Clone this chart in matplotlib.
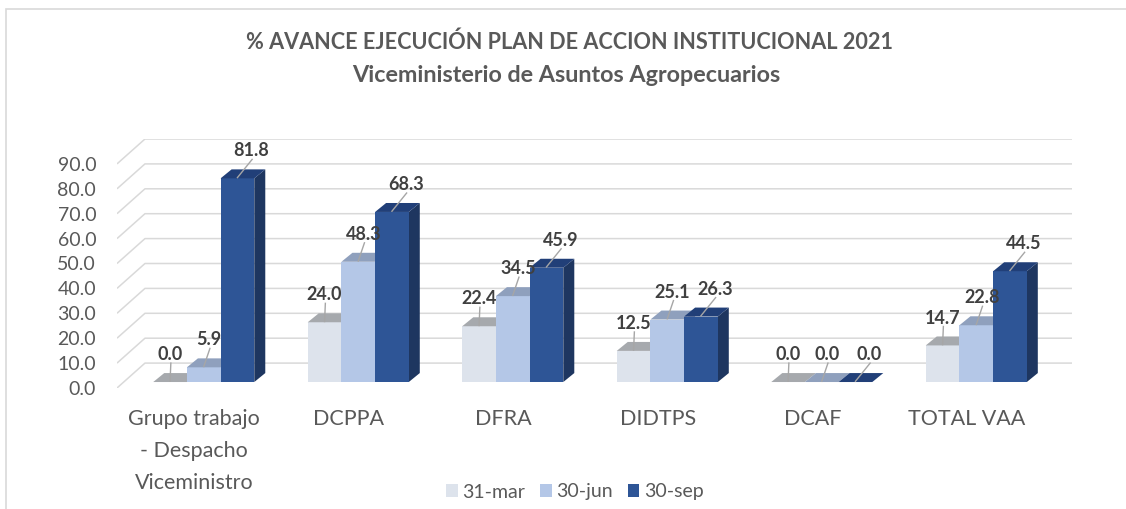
import matplotlib
matplotlib.use("Agg")
import matplotlib.pyplot as plt
from matplotlib.patches import Polygon, Patch, Rectangle
import numpy as np

# ---------------- data ----------------
categories = ["Grupo trabajo\n- Despacho\nViceministro", "DCPPA", "DFRA", "DIDTPS", "DCAF", "TOTAL VAA"]
series_names = ["31-mar", "30-jun", "30-sep"]
mar_31 = [0.0, 24.0, 22.4, 12.5, 0.0, 14.7]
jun_30 = [5.9, 48.3, 34.5, 25.1, 0.0, 22.8]
sep_30 = [81.8, 68.3, 45.9, 26.3, 0.0, 44.5]
y_ticks = [0, 10, 20, 30, 40, 50, 60, 70, 80, 90]
title_line1 = "% AVANCE EJECUCIÓN PLAN DE ACCION INSTITUCIONAL 2021"
title_line2 = "Viceministerio de Asuntos Agropecuarios"

# ---------------- style ----------------
FONT = ["Lato", "DejaVu Sans"]
plt.rcParams['font.family'] = FONT
TXT = "#595959"
LBL = "#404040"
GRID = "#d9d9d9"
front_cols = ["#dde3ec", "#b4c7e7", "#2e5596"]
top_cols = ["#a6a9ad", "#8fa0bd", "#213f78"]
side_cols = ["#b9bec6", "#8fa0bd", "#1e3660"]

DX_WALL, DY_WALL = 0.181, 10.0      # floor depth in data units
BAR_W = 0.218
BAR_SHIFT_X, BAR_BASE = 0.0615, 2.4  # bar front plane offset
BAR_DX, BAR_DY = 0.0712, 3.6         # bar depth
LBL_DX = [-0.005, 0.03, 0.085]
LBL_DY = 11.0

W, H = 1126, 509
fig = plt.figure(figsize=(W / 100, H / 100), dpi=100)
ax = fig.add_axes([117 / W, (H - 388) / H, 955 / W, 249 / H])
ax.set_xlim(-0.5, len(categories) - 0.5 + DX_WALL)
ax.set_ylim(0, y_ticks[-1] + DY_WALL)
for s in ax.spines.values():
    s.set_visible(False)

# outer chart border
fig.add_artist(Rectangle((6 / W, -0.01), 1.2, (H - 9) / H + 0.01, transform=fig.transFigure,
                         fill=False, edgecolor="#d9d9d9", linewidth=1.2))

# 3D style gridlines
x0 = -0.5
x1 = len(categories) - 0.5 + DX_WALL
for v in y_ticks:
    ax.plot([x0, x0 + DX_WALL, x1], [v, v + DY_WALL, v + DY_WALL], color=GRID, lw=1.1,
            zorder=1, solid_capstyle='butt')

# bars
series = [mar_31, jun_30, sep_30]
x = np.arange(len(categories))
for gi in range(len(categories)):
    for si, vals in enumerate(series):
        left = gi + BAR_SHIFT_X - 1.5 * BAR_W + si * BAR_W
        v = vals[gi]
        top = BAR_BASE + v
        z = 3 + si
        ax.bar(left, v, width=BAR_W, bottom=BAR_BASE, align='edge', color=front_cols[si],
               edgecolor='none', zorder=z)
        # top face
        ax.add_patch(Polygon([[left, top], [left + BAR_W, top],
                              [left + BAR_W + BAR_DX, top + BAR_DY], [left + BAR_DX, top + BAR_DY]],
                             closed=True, facecolor=top_cols[si], edgecolor='none', zorder=z))
        # side face
        if v > 0:
            ax.add_patch(Polygon([[left + BAR_W, BAR_BASE], [left + BAR_W + BAR_DX, BAR_BASE + BAR_DY],
                                  [left + BAR_W + BAR_DX, top + BAR_DY], [left + BAR_W, top]],
                                 closed=True, facecolor=side_cols[si], edgecolor='none', zorder=z - 0.5))
        # leader line + label
        cx = left + BAR_W / 2
        lx = cx + LBL_DX[si]
        ax.plot([cx, lx + 0.01], [top + 0.3, top + LBL_DY - 3.4], color="#a6a6a6", lw=1.0, zorder=10)
        ax.text(lx + 0.005, top + LBL_DY, f"{v:.1f}", ha='center', va='center', fontsize=13,
                fontweight='bold', color=LBL, zorder=11)

ax.set_xticks(x)
ax.set_xticklabels(categories, fontsize=15.5, color=TXT, linespacing=1.75, va='top')
ax.set_yticks(y_ticks)
ax.set_yticklabels([f"{t:.1f}" for t in y_ticks], fontsize=14, color=TXT)
ax.tick_params(axis='both', length=0)
ax.tick_params(axis='x', pad=15)
ax.tick_params(axis='y', pad=15)

# title
fig.text(569 / W, 1 - 42 / H, title_line1, ha='center', va='center', fontsize=15.6, fontweight='bold', color=TXT)
fig.text(566 / W, 1 - 75 / H, title_line2, ha='center', va='center', fontsize=16.8, fontweight='bold', color=TXT)

# legend
handles = [Patch(facecolor=front_cols[i], edgecolor='none', label=series_names[i]) for i in range(3)]
fig.legend(handles=handles, loc='center', bbox_to_anchor=(575 / W, 1 - 492 / H), ncol=3, frameon=False,
           fontsize=14, handlelength=0.6, handleheight=0.6, handletextpad=0.25, columnspacing=0.75,
           labelcolor=TXT)

fig.savefig("out.png", dpi=100)
